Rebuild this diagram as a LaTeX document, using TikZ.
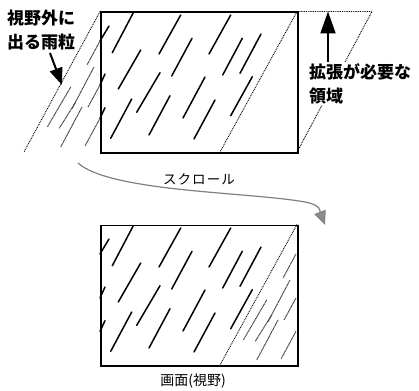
\documentclass[tikz,border=0pt]{standalone}
\usepackage{fontspec}
\newfontfamily\jp{Noto Sans CJK JP}
\usetikzlibrary{arrows.meta}
\begin{document}
\begin{tikzpicture}[x=1pt,y=-1pt,
  frame/.style={line width=1.7pt},
  drop/.style={line width=1.5pt,line cap=round},
  ghost/.style={line width=1pt,dash pattern=on 1pt off 0.5pt,black!75},
  dotline/.style={line width=0.9pt,dash pattern=on 0.9pt off 0.9pt},
  lbl/.style={font=\jp\bfseries\fontsize{17}{24}\selectfont,align=left,inner sep=1pt},
  slbl/.style={font=\jp\fontsize{13.5}{15}\selectfont\addfontfeatures{LetterSpace=8},inner sep=1pt},
  bigarrow/.style={line width=2pt,-{Triangle[length=17pt,width=13pt]}},
  scrollarrow/.style={line width=1.2pt,black!50,-{Triangle[length=14pt,width=12pt,fill=black!45]}}
]
\useasboundingbox (0,0) rectangle (419,390);
\newcommand\soliddrops{%
  \foreach \a/\b/\c/\d in {133.3/12.7/112.3/52.7, 180.7/15/159/54, 192/38.3/171.7/76,
    140.7/50/118.3/89, 160/72.7/136.7/112.3, 131.7/99/110.7/138.3, 170/95.7/149/135,
    205/77/183/118, 230.7/15/209/54, 242.3/38.3/222.7/75, 261/34/240/73.3,
    215/100/194/139, 252.3/76.7/230.7/115.7,
    109/26/100/41, 105/74/100/85, 105/107.7/100/118.3}
  {\draw[drop] (\a,\b) -- (\c,\d);}}
\newcommand\ghostdrops{%
  \foreach \a/\b/\c/\d in {100/41/87/65, 94/67/72/108.7, 70.7/87/47.3/127,
    82/107/60.7/147, 100/85/88/107, 100/118.3/85/146, 75.7/102/59/128.7}
  {\draw[ghost] (\a,\b) -- (\c,\d);}}
% ---------- top view ----------
\node[frame,draw,minimum width=197pt,minimum height=140.5pt,anchor=north west,inner sep=0pt] (top) at (100,11.5) {};
\soliddrops
\ghostdrops
\coordinate (tl) at (100,11.5);
\coordinate (pl) at (24,152);
\coordinate (tr) at (297,11.5);
\coordinate (ex) at (372,11.5);
\coordinate (br) at (297,152);
\coordinate (dg) at (220,152);
\draw[dotline] (tl) -- (pl);
\draw[dotline] (tr) -- (ex) -- (br);
\draw[dotline] (tr) -- (dg);
% labels
\node[lbl,anchor=north west] (outlbl) at (6,9) {視野外に\\出る雨粒};
\coordinate (outtip) at (62,85);
\draw[bigarrow] (50,53) -- (outtip);
\node[lbl,anchor=north west,fill=white] (extlbl) at (308,62) {拡張が必要な\\領域};
\coordinate (exttip) at (328,11.5);
\draw[line width=2pt,-{Triangle[length=22pt,width=15pt]}] (extlbl.north west -| exttip) -- (exttip);
% scroll arrow
\node[slbl] (scr) at (199,179) {スクロール};
\coordinate (s0) at (78,163);
\coordinate (s1) at (325,225);
\draw[scrollarrow] (s0) .. controls (110,192) and (250,192) .. (305,202) .. controls (322,205) and (320,212) .. (s1);
% ---------- bottom view ----------
\node[frame,draw,minimum width=197pt,minimum height=140.5pt,anchor=north west,inner sep=0pt] (bot) at (100,224.5) {};
\begin{scope}[shift={(0,213)}]
\soliddrops
\end{scope}
\begin{scope}
\clip (297,224.5) -- (297,365) -- (220,365) -- cycle;
\begin{scope}[shift={(196,213)}]
\ghostdrops
\end{scope}
\end{scope}
\coordinate (btr) at (297,224.5);
\coordinate (bdg) at (220,365);
\draw[dotline] (btr) -- (bdg);
\node[slbl,font=\jp\fontsize{14}{16}\selectfont] (view) at (193,381) {画面(視野)};
\end{tikzpicture}
\end{document}
